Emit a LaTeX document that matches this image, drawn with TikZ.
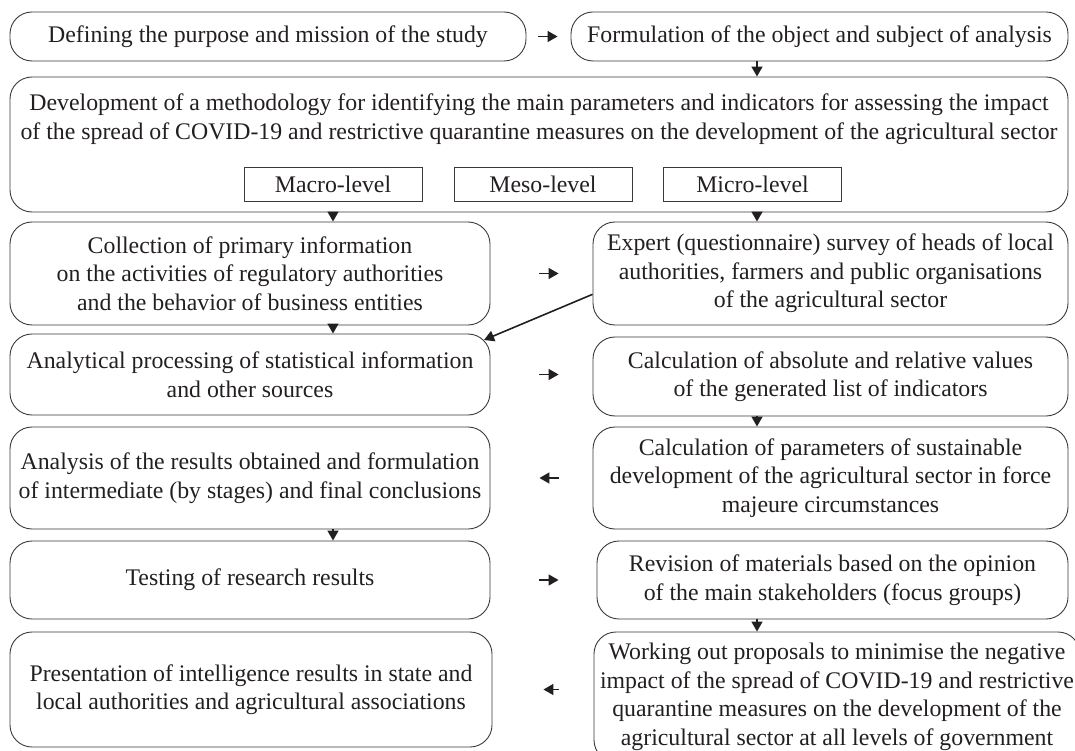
\documentclass[tikz,border=0pt]{standalone}
\usepackage{fontspec}
\setmainfont{Liberation Serif}
\usetikzlibrary{arrows.meta,calc}
\definecolor{boxgray}{HTML}{3A3A3A}
\definecolor{inkblack}{HTML}{231F20}
\begin{document}
\begin{tikzpicture}[x=1pt,y=-1pt,
  font=\fontsize{23.8}{28.6}\selectfont,
  box/.style={draw=boxgray, line width=0.9pt, rounded corners=22pt, align=center,
    inner sep=0pt, text=inkblack},
  lvl/.style={draw=boxgray, line width=0.9pt, inner sep=0pt, text=inkblack,
    minimum width=178pt, minimum height=34pt},
  flow/.style={-{Triangle[length=10pt,width=11pt]}, line width=1.6pt, inkblack},
]
\useasboundingbox (0,0) rectangle (1075,751);

% reference columns for the vertical connectors
\coordinate (lx) at (333,0);
\coordinate (rx) at (757,0);

% first row
\node[box, minimum width=516pt, minimum height=49pt] (define) at (268,36.5)
  {Defining the purpose and mission of the study};
\node[box, minimum width=497pt, minimum height=49pt] (formulation) at (819.5,36.5)
  {Formulation of the object and subject of analysis};

% methodology block with the three levels
\node[box, minimum width=1058pt, minimum height=135pt] (method) at (539,144.5) {};
\node[align=center, inner sep=0pt, text=inkblack] (methodtext) at (539,119)
  {Development of a methodology for identifying the main parameters and indicators for assessing the impact\\
   of the spread of COVID-19 and restrictive quarantine measures on the development of the agricultural sector};
\node[lvl] (macro) at (333,184) {Macro-level};
\node[lvl] (meso) at (543,184) {Meso-level};
\node[lvl] (micro) at (752.5,184) {Micro-level};

% left column
\node[box, minimum width=480pt, minimum height=103pt] (collection) at (250,273.5)
  {Collection of primary information\\ on the activities of regulatory authorities\\ and the behavior of business entities};
\node[box, minimum width=480pt, minimum height=81pt] (analytical) at (250,374.5)
  {Analytical processing of statistical information\\ and other sources};
\node[box, minimum width=480pt, minimum height=102pt] (analysis) at (250,478)
  {Analysis of the results obtained and formulation\\ of intermediate (by stages) and final conclusions};
\node[box, minimum width=480pt, minimum height=78pt] (testing) at (250,580)
  {Testing of research results};
\node[box, minimum width=482pt, minimum height=115pt] (presentation) at (251,689.5)
  {Presentation of intelligence results in state and\\ local authorities and agricultural associations};

% right column
\node[box, minimum width=475pt, minimum height=103pt] (expert) at (830.5,273.5)
  {Expert (questionnaire) survey of heads of local\\ authorities, farmers and public organisations\\ of the agricultural sector};
\node[box, minimum width=475pt, minimum height=79pt] (calcabs) at (830.5,376.5)
  {Calculation of absolute and relative values\\ of the generated list of indicators};
\node[box, minimum width=475pt, minimum height=102pt] (calcpar) at (830.5,478)
  {Calculation of parameters of sustainable\\ development of the agricultural sector in force\\ majeure circumstances};
\node[box, minimum width=471pt, minimum height=78pt] (revision) at (832.5,580)
  {Revision of materials based on the opinion\\ of the main stakeholders (focus groups)};
\node[box, minimum width=486pt, minimum height=130pt] (working) at (837,697)
  {Working out proposals to minimise the negative\\ impact of the spread of COVID-19 and restrictive\\ quarantine measures on the development of the\\ agricultural sector at all levels of government};

% horizontal connectors
\draw[flow, shorten <=12pt, shorten >=13pt] (define.east) -- (formulation.west);
\draw[flow, shorten <=49pt, shorten >=34pt] (collection.east) -- (collection.east -| expert.west);
\draw[flow, shorten <=49pt, shorten >=34pt] (analytical.east) -- (analytical.east -| calcabs.west);
\draw[flow, shorten <=34pt, shorten >=49pt] (calcpar.west) -- (calcpar.west -| analysis.east);
\draw[flow, shorten <=49pt, shorten >=38pt] (testing.east) -- (testing.east -| revision.west);
\draw[flow, shorten <=35pt, shorten >=51pt] (working.west |- presentation.east) -- (presentation.east);

% vertical connectors
\draw[flow] (formulation.south -| rx) -- (method.north -| rx);
\draw[flow] (method.south -| lx) -- (collection.north -| lx);
\draw[flow] (method.south -| rx) -- (expert.north -| rx);
\draw[flow] (collection.south -| lx) -- (analytical.north -| lx);
\draw[flow] (calcabs.south -| rx) -- (calcpar.north -| rx);
\draw[flow] (analysis.south -| lx) -- (testing.north -| lx);
\draw[flow] (revision.south -| rx) -- (working.north -| rx);

% diagonal connector from the survey to the analytical processing
\draw[flow] (expert.185) -- ($(analytical.north east)+(-6.4,6.4)$);
\end{tikzpicture}
\end{document}
